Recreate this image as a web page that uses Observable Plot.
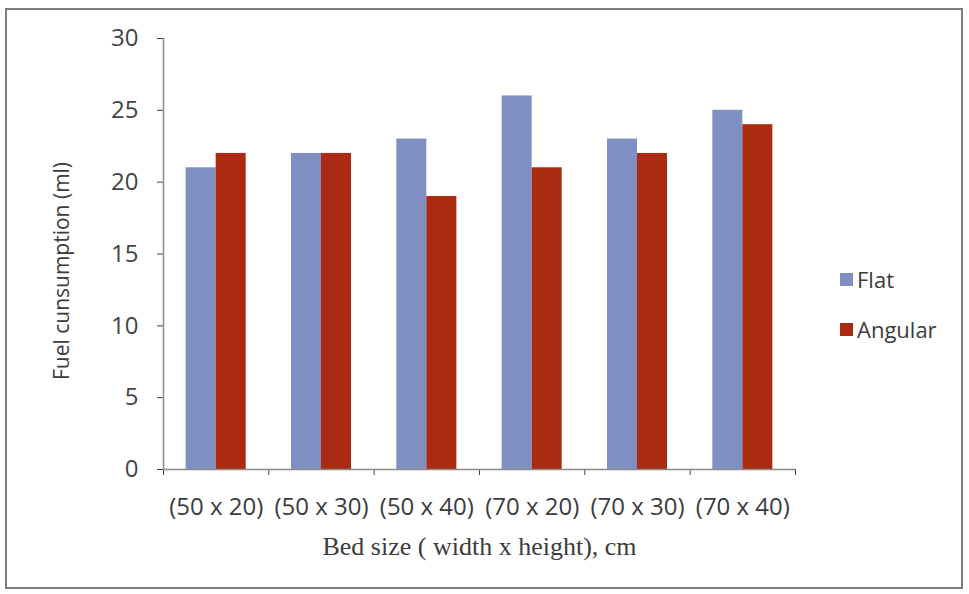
<!DOCTYPE html>
<html>
<head>
<meta charset="utf-8">
<script src="https://cdn.jsdelivr.net/npm/d3@7"></script>
<script src="https://cdn.jsdelivr.net/npm/@observablehq/plot@0.6"></script>
<style>
  html, body { margin: 0; padding: 0; background: #fff; }
  #wrap { position: relative; width: 969px; height: 594px; background: #fff; overflow: hidden; }
  #border { position: absolute; left: 5px; top: 8px; width: 958px; height: 581px; border: 2px solid #7c7c7c; box-sizing: border-box; }
  #chart { position: absolute; left: 0; top: 0; }
  .leg { position: absolute; font-family: "Open Sans", sans-serif; font-size: 22px; color: #3c3c3c; display: flex; align-items: center; }
  .sw { width: 13px; height: 13px; margin-right: 4px; }
</style>
</head>
<body>
<div id="wrap">
  <div id="border"></div>
  <div id="chart"></div>
  <div class="leg" id="leg0" style="left:840px; top:264px;"></div>
  <div class="leg" id="leg1" style="left:840px; top:314px;"></div>
</div>
<script>
const categories = ["(50 x 20)", "(50 x 30)", "(50 x 40)", "(70 x 20)", "(70 x 30)", "(70 x 40)"];
const seriesNames = ["Flat", "Angular"];
const flatValues = [21, 22, 23, 26, 23, 25];
const angularValues = [22, 22, 19, 21, 22, 24];
const yTicks = [0, 5, 10, 15, 20, 25, 30];
const xTitle = "Bed size ( width x height), cm";
const yTitle = "Fuel cunsumption (ml)";
const colors = ["#7f8fc1", "#aa2a12"];

const n = categories.length;
const gap = 0.215;
const rows = [];
categories.forEach((c, i) => {
  rows.push({cat: c, series: "Flat", value: flatValues[i], x1: i + gap, x2: i + 0.5});
  rows.push({cat: c, series: "Angular", value: angularValues[i], x1: i + 0.5, x2: i + 1 - gap});
});
const labelRows = categories.map((c, i) => ({cat: c, pos: i + 0.5}));

const plot = Plot.plot({
  width: 969,
  height: 594,
  marginLeft: 163,
  marginRight: 174,
  marginTop: 38,
  marginBottom: 125,
  style: {fontFamily: "'Open Sans', sans-serif", fontSize: "24px", color: "#444", background: "transparent"},
  x: {type: "linear", domain: [0, n], ticks: d3.range(0, n + 1), tickSize: 6, tickFormat: () => "", label: null},
  y: {domain: [0, 30], ticks: yTicks, tickSize: 6, tickPadding: 19, label: null},
  color: {domain: seriesNames, range: colors},
  marks: [
    Plot.rectY(rows, {x1: "x1", x2: "x2", y1: 0, y2: "value", fill: "series"}),
    Plot.ruleX([0], {y1: 0, y2: 30, stroke: "#8a8a8a", strokeWidth: 1.5}),
    Plot.ruleY([0], {stroke: "#8a8a8a", strokeWidth: 1.5}),
    Plot.text(labelRows, {x: "pos", y: 0, text: "cat", dy: 38, fontSize: 24, fill: "#3c3c3c"}),
    Plot.text([xTitle], {frameAnchor: "bottom", dy: 85, fontFamily: "'Liberation Serif', 'Times New Roman', serif", fontSize: 26, fill: "#3c3c3c"}),
    Plot.text([yTitle], {frameAnchor: "left", textAnchor: "middle", rotate: -90, dx: -101, dy: 17, fontSize: 21, fill: "#3c3c3c"})
  ]
});
document.getElementById("chart").appendChild(plot);

seriesNames.forEach((s, i) => {
  const el = document.getElementById("leg" + i);
  el.innerHTML = `<span class="sw" style="background:${colors[i]}"></span><span>${s}</span>`;
});
</script>
</body>
</html>
